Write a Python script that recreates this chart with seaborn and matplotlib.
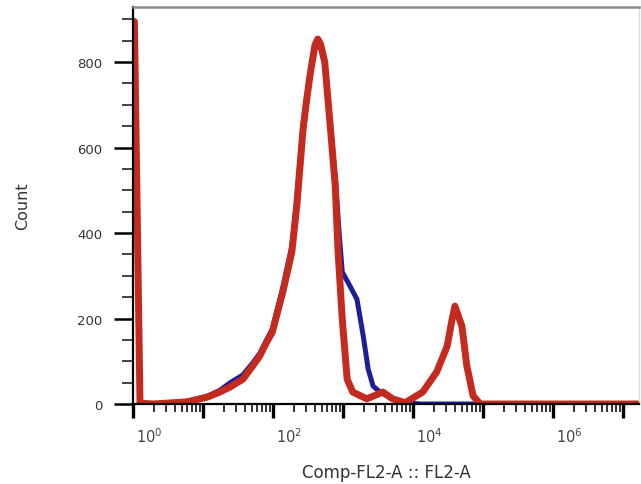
import matplotlib
matplotlib.use("Agg")
import numpy as np
import pandas as pd
import matplotlib.pyplot as plt
import matplotlib.ticker as mticker
import matplotlib.transforms as mtransforms
import seaborn as sns

# FL2-A intensity (log10) and count
red_log = [0.02, 0.10, 0.29, 0.77, 1.06, 1.24, 1.39, 1.57, 1.71, 1.81, 1.91, 1.99,
           2.14, 2.27, 2.34, 2.43, 2.48, 2.53, 2.60, 2.64, 2.68, 2.74, 2.81, 2.89,
           2.93, 2.99, 3.06, 3.14, 3.34, 3.57, 3.71, 3.89, 4.14, 4.34, 4.49, 4.56,
           4.60, 4.70, 4.77, 4.86, 4.96, 7.22]
red_count = [895, 2, 0, 5, 16, 28, 40, 58, 89, 112, 145, 168,
             262, 356, 463, 643, 710, 770, 840, 854, 842, 800, 667, 510,
             356, 199, 58, 28, 12, 28, 12, 3, 28, 75, 136, 199,
             229, 182, 89, 19, 0, 0]

blue_log = [0.02, 0.10, 0.29, 0.77, 1.06, 1.24, 1.39, 1.57, 1.71, 1.81, 1.91, 1.99,
            2.14, 2.27, 2.34, 2.43, 2.48, 2.53, 2.60, 2.64, 2.68, 2.74, 2.81, 2.89,
            2.95, 2.99, 3.10, 3.20, 3.29, 3.36, 3.43, 3.53, 3.71, 3.86, 4.10, 7.22]
blue_count = [890, 2, 0, 6, 18, 32, 50, 68, 96, 118, 150, 175,
              272, 370, 480, 655, 715, 770, 830, 845, 835, 795, 670, 530,
              390, 309, 276, 245, 159, 82, 42, 28, 12, 5, 0, 0]

y_ticks = [0, 200, 400, 600, 800]
x_decades = [0, 1, 2, 3, 4, 5, 6, 7]

red = pd.DataFrame({"fl2": np.power(10.0, red_log), "count": red_count})
blue = pd.DataFrame({"fl2": np.power(10.0, blue_log), "count": blue_count})

sns.set_style("ticks")
plt.rcParams["font.family"] = ["DejaVu Sans"]

fig = plt.figure(figsize=(6.41, 4.85), dpi=100)
ax = fig.add_axes([133 / 641, 1 - 405 / 485, 506 / 641, 397 / 485])

sns.lineplot(data=blue, x="fl2", y="count", ax=ax, color="#1c1f96", linewidth=3.6,
             solid_joinstyle="round", solid_capstyle="round")
sns.lineplot(data=red, x="fl2", y="count", ax=ax, color="#c42a1e", linewidth=5.0,
             solid_joinstyle="round", solid_capstyle="round")

ax.set_xscale("log")
ax.set_xlim(1, 10 ** 7.23)
ax.set_ylim(0, 929)

# y axis
ax.set_yticks(y_ticks)
ax.yaxis.set_minor_locator(mticker.MultipleLocator(50))
ax.tick_params(axis="y", which="major", length=14, width=1.8, color="black",
               labelsize=9.5, labelcolor="#333333", pad=8)
ax.tick_params(axis="y", which="minor", length=8, width=1.2, color="#222222")

# x axis: decades, labels on even ones only
ax.xaxis.set_major_locator(mticker.FixedLocator([10.0 ** d for d in x_decades]))
ax.xaxis.set_major_formatter(mticker.FuncFormatter(
    lambda v, pos: r"$10^{%d}$" % round(np.log10(v)) if round(np.log10(v)) % 2 == 0 else ""))
ax.xaxis.set_minor_locator(mticker.LogLocator(base=10, subs=np.arange(2, 10), numticks=50))
ax.xaxis.set_minor_formatter(mticker.NullFormatter())
ax.tick_params(axis="x", which="major", length=10, width=2.4, color="black",
               labelsize=10.5, labelcolor="#444444", pad=6)
ax.tick_params(axis="x", which="minor", length=6, width=1.3, color="#222222")
offset = mtransforms.ScaledTranslation(3 / 100, 0, fig.dpi_scale_trans)
for lab in ax.get_xticklabels():
    lab.set_horizontalalignment("left")
    lab.set_transform(lab.get_transform() + offset)

ax.set_xlabel("Comp-FL2-A :: FL2-A", fontsize=12, color="#333333", labelpad=13)
ax.set_ylabel("Count", fontsize=11.5, color="#333333", labelpad=34)

for side in ["left", "bottom"]:
    ax.spines[side].set_color("black")
    ax.spines[side].set_linewidth(1.6)
ax.spines["top"].set_color("#8a8a8a")
ax.spines["top"].set_linewidth(1.8)
ax.spines["right"].set_color("#dddddd")
ax.spines["right"].set_linewidth(1.0)

fig.savefig("out.png", dpi=100)
